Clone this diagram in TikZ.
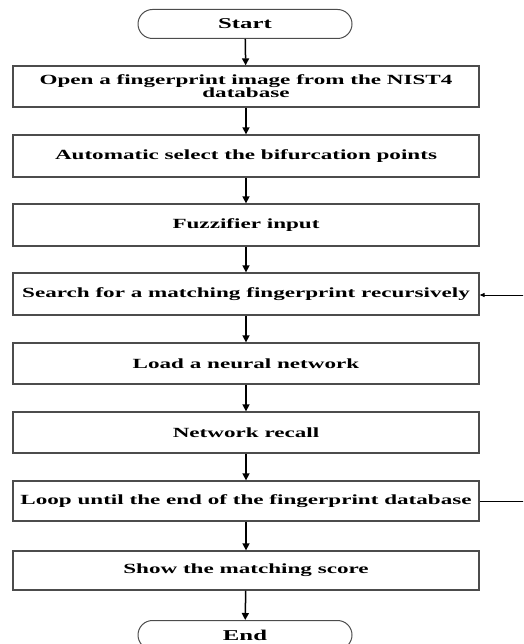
\documentclass[tikz,border=0pt]{standalone}
\usepackage{fontspec}
\setmainfont{Liberation Serif}[FakeStretch=1.65]
\usetikzlibrary{arrows.meta,shapes.misc}
\begin{document}
\begin{tikzpicture}[x=1pt,y=-1pt,
  stepbox/.style={draw=black!70,line width=1.3pt,minimum width=466pt,inner sep=0pt,align=center,font=\fontsize{14}{13}\selectfont\bfseries},
  term/.style={draw=black!70,line width=1pt,rounded rectangle,minimum width=214pt,minimum height=29pt,inner sep=0pt,font=\fontsize{15}{15}\selectfont\bfseries},
  flow/.style={line width=1.5pt,-{Triangle[length=7pt,width=7pt]}},
  back/.style={line width=1pt}]
\useasboundingbox (0,0) rectangle (523,644);
\clip (0,0) rectangle (523,644);
\node[term] (start) at (245,24) {Start};
\node[stepbox,minimum height=41pt] (b1) at (246,86.5) {Open a fingerprint image from the NIST4\\database};
\node[stepbox,minimum height=42pt] (b2) at (246,156) {Automatic select the bifurcation points};
\node[stepbox,minimum height=42pt] (b3) at (246,225) {Fuzzifier input};
\node[stepbox,minimum height=42pt] (b4) at (246,294) {Search for a matching fingerprint recursively};
\node[stepbox,minimum height=41pt] (b5) at (246,363.5) {Load a neural network};
\node[stepbox,minimum height=41pt] (b6) at (246,432.5) {Network recall};
\node[stepbox,minimum height=40pt] (b7) at (246,501) {Loop until the end of the fingerprint database};
\node[stepbox,minimum height=39pt] (b8) at (246,570.5) {Show the matching score};
\node[term] (end) at (245,635) {End};
\draw[flow] (start) -- (b1);
\draw[flow] (b1) -- (b2);
\draw[flow] (b2) -- (b3);
\draw[flow] (b3) -- (b4);
\draw[flow] (b4) -- (b5);
\draw[flow] (b5) -- (b6);
\draw[flow] (b6) -- (b7);
\draw[flow] (b7) -- (b8);
\draw[flow] (b8) -- (end);
\coordinate (r7) at (530,501);
\coordinate (r4) at (530,295);
\draw[back] (b7.east) -- (r7);
\draw[back,-{Triangle[length=5pt,width=4pt]}] (r4) -- (b4.east |- r4);
\end{tikzpicture}
\end{document}
